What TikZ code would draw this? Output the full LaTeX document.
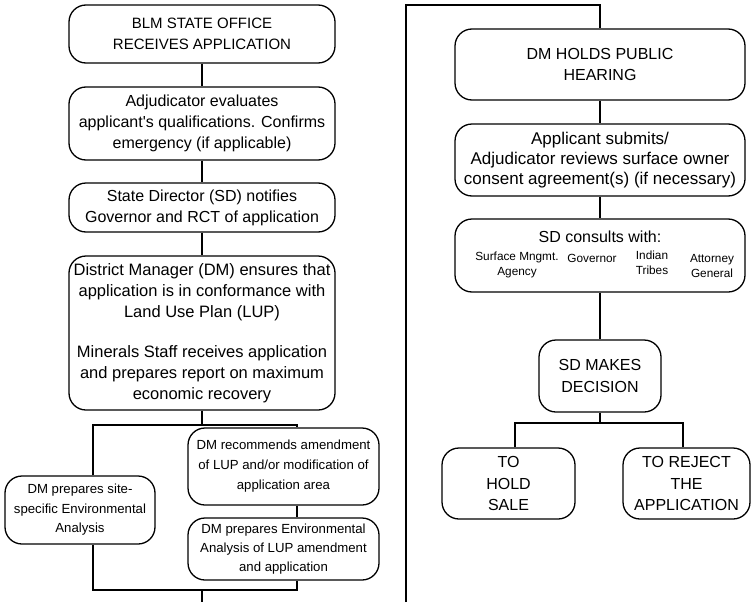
\documentclass[tikz,border=0pt]{standalone}
\usepackage{fontspec}
\setmainfont{Liberation Sans}
\newcommand\setfs[2]{\fontsize{#1}{#2}\selectfont}
\begin{document}
\begin{tikzpicture}[x=1pt,y=-1pt,
  box/.style={draw, line width=1.3pt, rounded corners=17pt, align=center, inner sep=0pt, anchor=center},
  plain/.style={align=center, inner sep=0pt, anchor=center},
  conn/.style={line width=1.3pt}]
\useasboundingbox (0,0) rectangle (751,602);
% left column
\node[box, minimum width=266, minimum height=58, font=\setfs{15}{21}] (b1) at (202,34) {BLM STATE OFFICE\\RECEIVES APPLICATION};
\node[box, minimum width=266, minimum height=73, font=\setfs{16}{21}] (b2) at (202,123.5) {Adjudicator evaluates\\applicant\textquotesingle s qualifications. Confirms\\emergency (if applicable)};
\node[box, minimum width=266, minimum height=49, font=\setfs{16}{21}] (b3) at (202,207.5) {State Director (SD) notifies\\Governor and RCT of application};
\node[box, minimum width=266, minimum height=154, font=\setfs{16.5}{21}] (b4) at (202,333) {District Manager (DM) ensures that\\application is in conformance with\\Land Use Plan (LUP)\\[19pt]Minerals Staff receives application\\and prepares report on maximum\\economic recovery};
\node[box, minimum width=191, minimum height=77, font=\setfs{13.2}{20}] (b5) at (283.5,466.5) {DM recommends amendment\\of LUP and/or modification of\\application area};
\node[box, minimum width=191, minimum height=62, font=\setfs{13.2}{19}] (b6) at (283.5,549) {DM prepares Environmental\\Analysis of LUP amendment\\and application};
\node[box, minimum width=150, minimum height=68, font=\setfs{13.2}{19.5}] (b7) at (80,510) {DM prepares site-\\specific Environmental\\Analysis};
\draw[conn] (b1) -- (b2);
\draw[conn] (b2) -- (b3);
\draw[conn] (b3) -- (b4);
\coordinate (j1) at (202,425);
\coordinate (la) at (93,425);
\coordinate (ra) at (297,425);
\draw[conn] (b4.south) -- (j1);
\draw[conn] (b7.north -| la) -- (la) -- (ra) -- (b5.north -| ra);
\draw[conn] (b5.south -| ra) -- (b6.north -| ra);
\coordinate (lb) at (93,590);
\coordinate (rb) at (297,590);
\coordinate (jb) at (202,590);
\coordinate (e1) at (202,602);
\draw[conn] (b7.south -| lb) -- (lb) -- (rb) -- (b6.south -| rb);
\draw[conn] (jb) -- (e1);
% right column
\node[box, minimum width=290, minimum height=71, font=\setfs{16}{21}] (b8) at (600,64.5) {DM HOLDS PUBLIC\\HEARING};
\node[box, minimum width=290, minimum height=72, font=\setfs{17}{20}] (b9) at (600,160) {Applicant submits/\\Adjudicator reviews surface owner\\consent agreement(s) (if necessary)};
\node[box, minimum width=290, minimum height=73] (b10) at (600,255.5) {};
\node[plain, font=\setfs{16}{20}] (c0) at (600,237) {SD consults with:};
\node[plain, font=\setfs{11.8}{15}] (c1) at (517,265) {Surface Mngmt.\\Agency};
\node[plain, font=\setfs{11.8}{15}] (c2) at (592,258) {Governor};
\node[plain, font=\setfs{11.8}{15}] (c3) at (652,263) {Indian\\Tribes};
\node[plain, font=\setfs{11.8}{15}] (c4) at (712,266) {Attorney\\General};
\node[box, minimum width=122, minimum height=72, font=\setfs{16}{22}] (b11) at (600,376) {SD MAKES\\DECISION};
\node[box, minimum width=133, minimum height=71, font=\setfs{16}{21.5}] (b12) at (508.5,483.5) {TO\\HOLD\\SALE};
\node[box, minimum width=127, minimum height=71, font=\setfs{16}{21.5}] (b13) at (686.5,483.5) {TO REJECT\\THE\\APPLICATION};
\coordinate (t0) at (406,602);
\coordinate (t1) at (406,5);
\coordinate (t2) at (600,5);
\draw[conn] (t0) -- (t1) -- (t2) -- (b8.north);
\draw[conn] (b8) -- (b9);
\draw[conn] (b9) -- (b10);
\draw[conn] (b10) -- (b11);
\coordinate (j2) at (600,423);
\coordinate (lc) at (515,423);
\coordinate (rc) at (683,423);
\draw[conn] (b11.south) -- (j2);
\draw[conn] (b12.north -| lc) -- (lc) -- (rc) -- (b13.north -| rc);
\end{tikzpicture}
\end{document}
